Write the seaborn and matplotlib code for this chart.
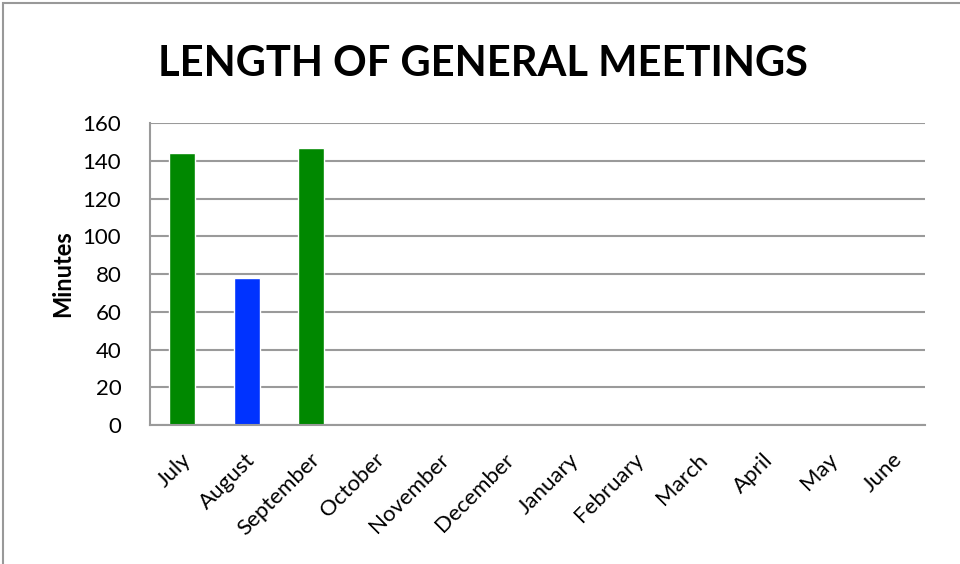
import numpy as np
import pandas as pd
import matplotlib
matplotlib.use("Agg")
import matplotlib.pyplot as plt
import matplotlib.transforms as mtransforms
import seaborn as sns

# meeting lengths in minutes (only Jul-Sep recorded so far)
months = ["July", "August", "September", "October", "November", "December",
          "January", "February", "March", "April", "May", "June"]
minutes = [144, 78, 147, np.nan, np.nan, np.nan,
           np.nan, np.nan, np.nan, np.nan, np.nan, np.nan]
bar_colors = ["#008800", "#0033ff", "#008800"] + ["#008800"] * 9

df = pd.DataFrame({"Month": months, "Minutes": minutes})

sns.set_style("white", {"text.color": "black", "axes.labelcolor": "black",
                        "xtick.color": "black", "ytick.color": "black"})
plt.rcParams["font.family"] = ["Lato", "DejaVu Sans"]

fig = plt.figure(figsize=(9.6, 5.64), dpi=100)
ax = fig.add_axes([0.156, 0.246, 0.808, 0.536])

sns.barplot(data=df, x="Month", y="Minutes", hue="Month", order=months,
            palette=dict(zip(months, bar_colors)), legend=False,
            width=0.4, saturation=1, ax=ax)

ax.set_ylim(0, 160)
ax.set_yticks(range(0, 161, 20))
ax.set_xlim(-0.5, len(months) - 0.5)
ax.yaxis.grid(True, color="#9a9a9a", linewidth=1.5)
ax.set_axisbelow(True)
for side in ["top", "right"]:
    ax.spines[side].set_visible(False)
for side in ["left", "bottom"]:
    ax.spines[side].set_color("#9a9a9a")
    ax.spines[side].set_linewidth(1.5)
ax.tick_params(axis="y", left=False, labelsize=16, pad=17)
ax.tick_params(axis="x", bottom=False, labelsize=16, pad=14)
plt.setp(ax.get_xticklabels(), rotation=45, ha="right", rotation_mode="anchor")
# nudge month labels so their ends sit just under the ticks
shift = mtransforms.ScaledTranslation(-1 / 72, 0, fig.dpi_scale_trans)
for lbl in ax.get_xticklabels():
    lbl.set_transform(lbl.get_transform() + shift)
ax.set_xlabel("")
ax.set_ylabel("Minutes", fontsize=17, fontweight="bold", labelpad=6)

fig.suptitle("LENGTH OF GENERAL MEETINGS", fontsize=30, fontweight="bold",
             x=0.503, y=0.92)

# thin grey frame round the chart area
fig.patches.append(plt.Rectangle((0.003, -0.01), 1.0, 1.005, transform=fig.transFigure,
                                 fill=False, edgecolor="#999999", linewidth=1.5))

fig.savefig("out.png", dpi=100)
